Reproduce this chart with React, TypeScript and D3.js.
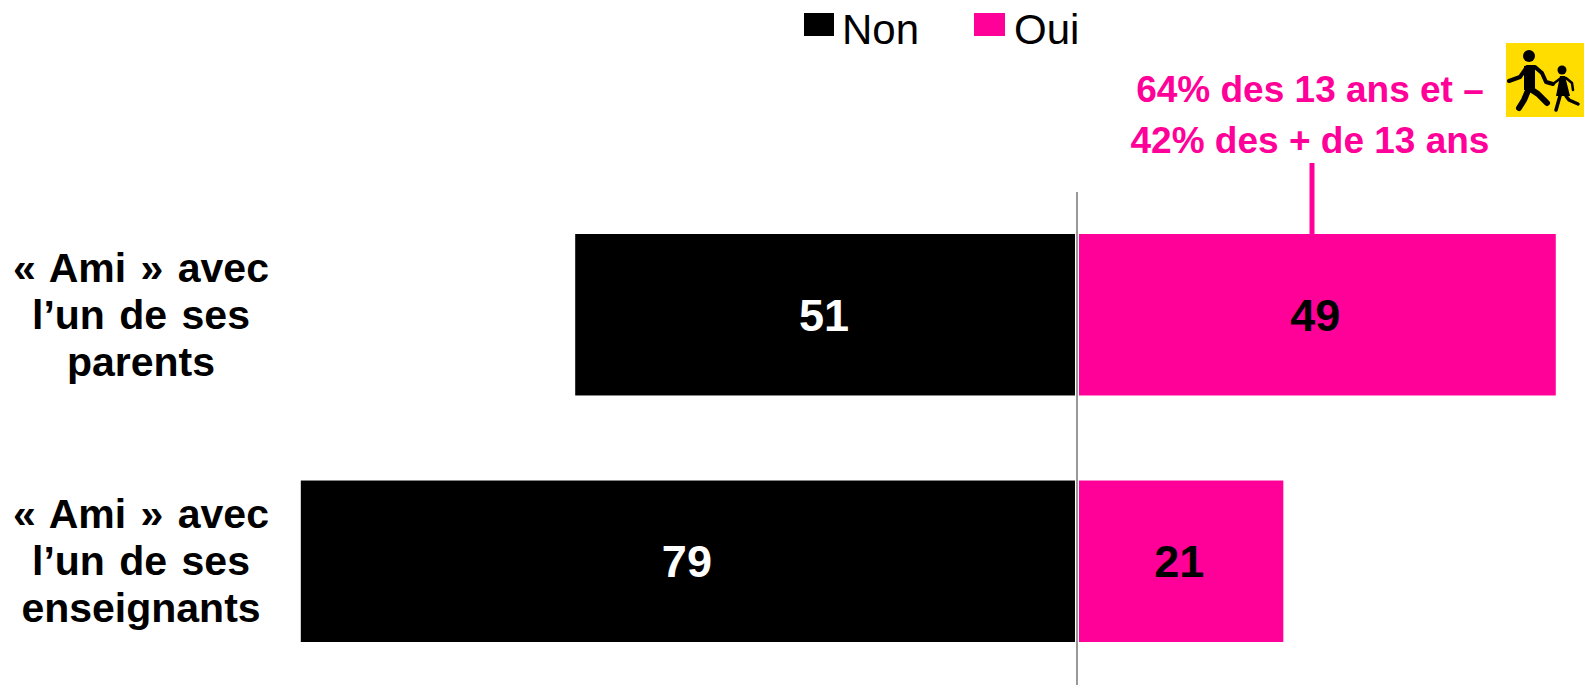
import React from "react";
import * as d3 from "d3";

const categories = ["parents", "enseignants"];
const categoryLines = [["« Ami » avec", "l’un de ses", "parents"], ["« Ami » avec", "l’un de ses", "enseignants"]];
const nonValues = [51, 79];
const ouiValues = [49, 21];
const legendLabels = ["Non", "Oui"];
const noteLines = ["64% des 13 ans et –", "42% des + de 13 ans"];
const PINK = "#FF0099";
const FONT = "'Liberation Sans', Arial, sans-serif";

const xNon = d3.scaleLinear().domain([0, 100]).range([1075, 95]);
const xOui = d3.scaleLinear().domain([0, 100]).range([1079, 2052]);
const y = d3.scaleBand().domain(categories).range([234, 642]).paddingInner(0.345).paddingOuter(0);

export default function App() {
  return (
    <svg width={1584} height={685} viewBox="0 0 1584 685"
      style={{ position: "absolute", left: 0, top: 0, display: "block", background: "#fff" }} fontFamily={FONT}>
      {categories.map((c, i) => {
        const by = y(c)!;
        const h = y.bandwidth();
        const cy = by + h / 2;
        return (
          <g key={c}>
            <rect x={xNon(nonValues[i])} y={by} width={xNon(0) - xNon(nonValues[i])} height={h} fill="#000" />
            <rect x={xOui(0)} y={by} width={xOui(ouiValues[i]) - xOui(0)} height={h} fill={PINK} />
            <text x={(xNon(nonValues[i]) + xNon(0)) / 2 - 1} y={cy + 16} textAnchor="middle" fontSize={45} fontWeight="bold" fill="#fff">{nonValues[i]}</text>
            <text x={(xOui(ouiValues[i]) + xOui(0)) / 2 - 2} y={cy + 16} textAnchor="middle" fontSize={45} fontWeight="bold" fill="#000">{ouiValues[i]}</text>
            {categoryLines[i].map((l, k) => (
              <text key={k} x={141} y={cy + 47 * (k - 1) + 14} textAnchor="middle" fontSize={41} fontWeight="bold" fill="#000" wordSpacing={3}>{l}</text>
            ))}
          </g>
        );
      })}
      <line x1={1077} x2={1077} y1={192} y2={685} stroke="#555" strokeWidth={1.2} />
      <line x1={1312} x2={1312} y1={163} y2={234} stroke={PINK} strokeWidth={5} />
      <rect x={804} y={13} width={30} height={23} fill="#000" />
      <text x={842} y={44} fontSize={42} fill="#000">{legendLabels[0]}</text>
      <rect x={974} y={13} width={31} height={23} fill={PINK} />
      <text x={1014} y={44} fontSize={42} fill="#000">{legendLabels[1]}</text>
      {noteLines.map((l, k) => (
        <text key={k} x={1310} y={102 + k * 51} textAnchor="middle" fontSize={37} fontWeight="bold" fill={PINK}>{l}</text>
      ))}
      <g>
        <rect x={1506} y={43} width={78} height={74} fill="#FFDD00" />
        <circle cx={1529} cy={56} r={6} fill="#000" />
        <path d="M1509 81 L1520 77 L1527 67 L1535 67 L1542 73 L1546 82 L1553 84" fill="none" stroke="#000" strokeWidth={4} strokeLinecap="round" strokeLinejoin="round" />
        <path d="M1529 68 L1529 88 L1524 100 L1519 108 M1529 88 L1538 94 L1547 103" fill="none" stroke="#000" strokeWidth={6} strokeLinecap="round" strokeLinejoin="round" />
        <path d="M1524 66 L1535 66 L1535 90 L1524 90 Z" fill="#000" />
        <circle cx={1562} cy={70} r={4.5} fill="#000" />
        <path d="M1553 84 L1561 78 L1566 78 L1572 83 L1573 90" fill="none" stroke="#000" strokeWidth={2.5} strokeLinecap="round" strokeLinejoin="round" />
        <path d="M1560 76 L1565 76 L1570 96 L1556 96 Z" fill="#000" />
        <path d="M1560 96 L1556 110 M1566 96 L1569 100 L1578 104" fill="none" stroke="#000" strokeWidth={3.5} strokeLinecap="round" strokeLinejoin="round" />
      </g>
    </svg>
  );
}
